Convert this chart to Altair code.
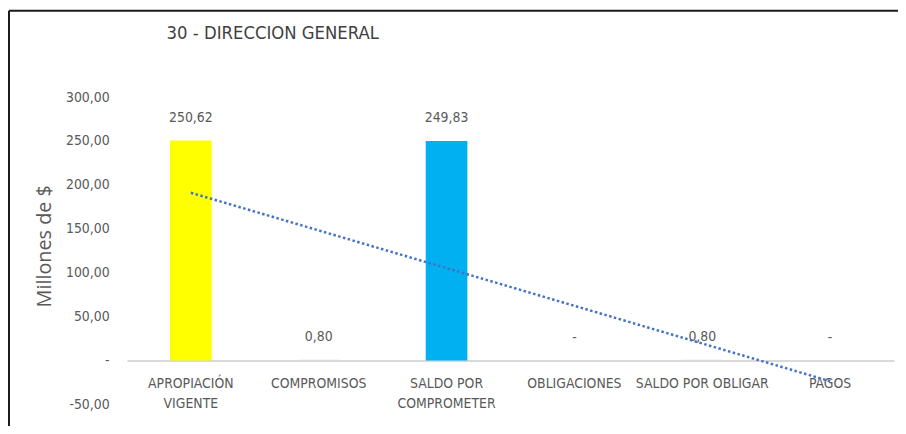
import altair as alt
import pandas as pd

categories = ["APROPIACIÓN\nVIGENTE", "COMPROMISOS", "SALDO POR\nCOMPROMETER",
              "OBLIGACIONES", "SALDO POR OBLIGAR", "PAGOS"]
values = [250.62, 0.80, 249.83, 0.0, 0.80, 0.0]
bar_colors = ["#FFFF00", "#D9D9D9", "#00B0F0", "#D9D9D9", "#D9D9D9", "#D9D9D9"]
y_ticks = [-50, 0, 50, 100, 150, 200, 250, 300]
title_text = "30 - DIRECCION GENERAL"
y_title = "Millones de $"

df = pd.DataFrame({"cat": categories, "value": values, "idx": list(range(1, len(categories) + 1))})

NARROW = "Liberation Sans Narrow, Arial Narrow, DejaVu Sans Condensed, sans-serif"
GREY = "#595959"
FMT = "datum.value == 0 ? '-' : replace(replace(format(datum.value, '.2f'), '.', ','), '\u2212', '-')"

x_enc = alt.X(
    "cat:N", sort=categories,
    scale=alt.Scale(paddingInner=0.674, paddingOuter=0.337),
    axis=alt.Axis(title=None, labelAngle=0, labelExpr="split(datum.value, '\\n')",
                  offset=-44.3, domainColor="#D9D9D9", domainWidth=2, ticks=False,
                  labelPadding=16, labelFont=NARROW, labelFontSize=14, labelColor=GREY,
                  labelLineHeight=21, labelBaseline="top"),
)
y_scale = alt.Scale(domain=[-50, 300], nice=False, zero=False)
y_axis = alt.Axis(values=y_ticks, grid=False, ticks=False, domain=False,
                  labelExpr=FMT,
                  labelFont=NARROW, labelFontSize=14, labelColor=GREY, labelPadding=18,
                  title=y_title, titleFont="Open Sans", titleFontSize=20, titleFontWeight="normal",
                  titleColor=GREY, titleX=-83, titleY=150, titleAngle=-90,
                  titleAlign="center", titleBaseline="middle")

base = alt.Chart(df)

bars = base.mark_bar().encode(
    x=x_enc,
    y=alt.Y("value:Q", scale=y_scale, axis=y_axis),
    y2=alt.datum(0),
    color=alt.Color("cat:N", scale=alt.Scale(domain=categories, range=bar_colors), legend=None),
)

labels = base.transform_calculate(lbl=FMT).mark_text(
    font=NARROW, fontSize=14, color=GREY, baseline="middle", dy=-23
).encode(
    x=alt.X("cat:N", sort=categories),
    y=alt.Y("value:Q"),
    text="lbl:N",
)

trend = base.transform_regression("idx", "value", method="linear").transform_lookup(
    lookup="idx", from_=alt.LookupData(data=df, key="idx", fields=["cat"])
).mark_line(color="#4472C4", strokeWidth=2.5, strokeDash=[2.5, 2.5]).encode(
    x=alt.X("cat:N", sort=categories),
    y=alt.Y("value:Q"),
)

single = pd.DataFrame({"t": [title_text]})
title_mark = alt.Chart(single).mark_text(
    font=NARROW, fontSize=18.5, color="#404040", align="left", baseline="middle"
).encode(x=alt.value(40), y=alt.value(-65), text="t:N")

frame_top = alt.Chart(single).mark_rule(color="#1a1a1a", strokeWidth=2).encode(
    x=alt.value(-119), x2=alt.value(800), y=alt.value(-87))
frame_left = alt.Chart(single).mark_rule(color="#1a1a1a", strokeWidth=2).encode(
    x=alt.value(-119), y=alt.value(-87), y2=alt.value(340))

chart = alt.layer(bars, labels, trend, title_mark, frame_top, frame_left).properties(
    width=774, height=310,
    autosize=alt.AutoSizeParams(type="none"),
    padding={"left": 120, "top": 88, "right": 4, "bottom": 20},
).configure_view(stroke=None)

chart.save("out.html", embed_options={"renderer": "svg", "actions": False})
